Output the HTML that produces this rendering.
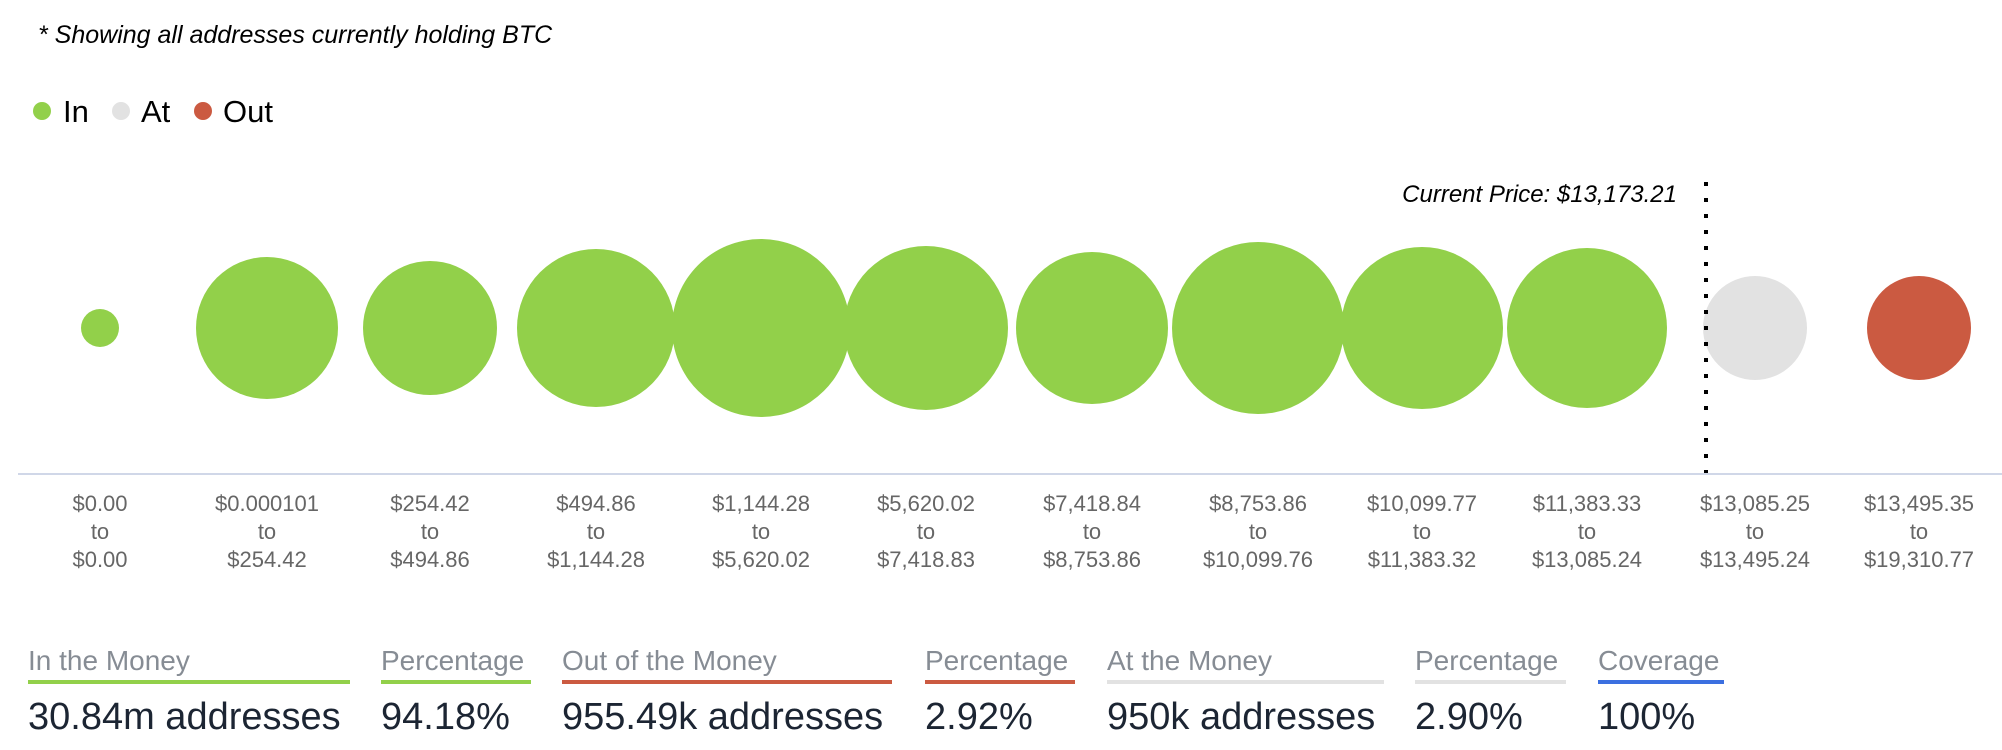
<!DOCTYPE html>
<html><head><meta charset="utf-8"><style>
html,body{margin:0;padding:0;background:#fff;}
svg{display:block;font-family:"Liberation Sans",sans-serif;}
</style></head><body>
<svg width="2002" height="750" viewBox="0 0 2002 750" xmlns="http://www.w3.org/2000/svg">
<text x="38" y="43" font-size="25" font-style="italic" fill="#000">* Showing all addresses currently holding BTC</text>
<circle cx="42" cy="111" r="9" fill="#92d04a"/><text x="63" y="122" font-size="31" fill="#000">In</text>
<circle cx="121" cy="111" r="9" fill="#e2e2e2"/><text x="141" y="122" font-size="31" fill="#000">At</text>
<circle cx="203" cy="111" r="9" fill="#cb5a41"/><text x="223" y="122" font-size="31" fill="#000">Out</text>

<g>
<circle cx="100" cy="328" r="19" fill="#92d04a"/>
<circle cx="267" cy="328" r="71" fill="#92d04a"/>
<circle cx="430" cy="328" r="67" fill="#92d04a"/>
<circle cx="596" cy="328" r="79" fill="#92d04a"/>
<circle cx="761" cy="328" r="89" fill="#92d04a"/>
<circle cx="926" cy="328" r="82" fill="#92d04a"/>
<circle cx="1092" cy="328" r="76" fill="#92d04a"/>
<circle cx="1258" cy="328" r="86" fill="#92d04a"/>
<circle cx="1422" cy="328" r="81" fill="#92d04a"/>
<circle cx="1587" cy="328" r="80" fill="#92d04a"/>
<circle cx="1755" cy="328" r="52" fill="#e2e2e2"/>
<circle cx="1919" cy="328" r="52" fill="#cb5a41"/>
</g>
<line x1="1706" y1="182" x2="1706" y2="474" stroke="#000" stroke-width="4" stroke-dasharray="4,12"/>
<text x="1677" y="202" font-size="24" font-style="italic" text-anchor="end" fill="#000">Current Price: $13,173.21</text>
<line x1="18" y1="474" x2="2002" y2="474" stroke="#d0d7e8" stroke-width="2"/>

<g font-size="22" fill="#666" text-anchor="middle">
<text x="100" y="511">$0.00</text><text x="100" y="539">to</text><text x="100" y="567">$0.00</text>
<text x="267" y="511">$0.000101</text><text x="267" y="539">to</text><text x="267" y="567">$254.42</text>
<text x="430" y="511">$254.42</text><text x="430" y="539">to</text><text x="430" y="567">$494.86</text>
<text x="596" y="511">$494.86</text><text x="596" y="539">to</text><text x="596" y="567">$1,144.28</text>
<text x="761" y="511">$1,144.28</text><text x="761" y="539">to</text><text x="761" y="567">$5,620.02</text>
<text x="926" y="511">$5,620.02</text><text x="926" y="539">to</text><text x="926" y="567">$7,418.83</text>
<text x="1092" y="511">$7,418.84</text><text x="1092" y="539">to</text><text x="1092" y="567">$8,753.86</text>
<text x="1258" y="511">$8,753.86</text><text x="1258" y="539">to</text><text x="1258" y="567">$10,099.76</text>
<text x="1422" y="511">$10,099.77</text><text x="1422" y="539">to</text><text x="1422" y="567">$11,383.32</text>
<text x="1587" y="511">$11,383.33</text><text x="1587" y="539">to</text><text x="1587" y="567">$13,085.24</text>
<text x="1755" y="511">$13,085.25</text><text x="1755" y="539">to</text><text x="1755" y="567">$13,495.24</text>
<text x="1919" y="511">$13,495.35</text><text x="1919" y="539">to</text><text x="1919" y="567">$19,310.77</text>
</g>

<g font-size="28" fill="#868c94">
<text x="28" y="670">In the Money</text>
<text x="381" y="670">Percentage</text>
<text x="562" y="670">Out of the Money</text>
<text x="925" y="670">Percentage</text>
<text x="1107" y="670">At the Money</text>
<text x="1415" y="670">Percentage</text>
<text x="1598" y="670">Coverage</text>
</g>
<rect x="28" y="680" width="322" height="4" fill="#92d04a"/>
<rect x="381" y="680" width="150" height="4" fill="#92d04a"/>
<rect x="562" y="680" width="330" height="4" fill="#cb5a41"/>
<rect x="925" y="680" width="150" height="4" fill="#cb5a41"/>
<rect x="1107" y="680" width="277" height="4" fill="#e2e2e2"/>
<rect x="1415" y="680" width="151" height="4" fill="#e2e2e2"/>
<rect x="1598" y="680" width="126" height="4" fill="#3b6fe0"/>
<g font-size="38" fill="#1c2533">
<text x="28" y="729">30.84m addresses</text>
<text x="381" y="729">94.18%</text>
<text x="562" y="729">955.49k addresses</text>
<text x="925" y="729">2.92%</text>
<text x="1107" y="729">950k addresses</text>
<text x="1415" y="729">2.90%</text>
<text x="1598" y="729">100%</text>
</g>
</svg>
</body></html>
